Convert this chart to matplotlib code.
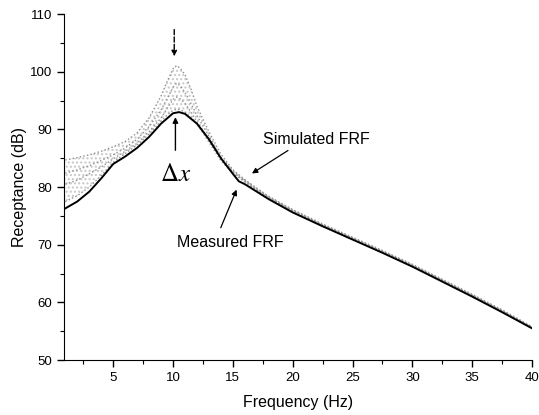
import matplotlib.pyplot as plt
from matplotlib.ticker import MultipleLocator

plt.rcParams['font.family'] = ['Liberation Sans', 'DejaVu Sans']
plt.rcParams['mathtext.fontset'] = 'stix'

# ----- Data -----
freq_meas = [1, 2, 3, 4, 5, 6, 7, 8, 9, 10, 10.5, 11, 12, 13, 14, 15, 15.5, 16,
             17, 18, 20, 22.5, 25, 27.5, 30, 32.5, 35, 37.5, 40]
measured = [76.3, 77.5, 79.2, 81.5, 84.0, 85.3, 86.8, 88.7, 91.0, 92.8, 93.0, 92.7,
            91.0, 88.3, 85.0, 82.3, 81.0, 80.5, 79.2, 77.9, 75.6, 73.2, 70.9, 68.6,
            66.2, 63.6, 61.0, 58.3, 55.5]

freq_sim = [1, 2, 3, 4, 5, 6, 7, 8, 9, 9.5, 10, 10.3, 10.6, 11, 11.5, 12, 13, 14,
            15, 16, 17, 18, 20, 22.5, 25, 27.5, 30, 32.5, 35, 37.5, 40]
sim_a = [84.7, 85.1, 85.6, 86.2, 87.0, 87.9, 89.4, 92.0, 95.8, 98.3, 100.5, 101.1,
         100.6, 99.5, 97.0, 94.0, 89.6, 85.7, 83.0, 81.3, 79.8, 78.4, 76.1, 73.6,
         71.3, 69.0, 66.6, 64.0, 61.4, 58.7, 55.8]
sim_b = [82.4, 83.0, 83.7, 84.6, 85.6, 86.8, 88.3, 90.5, 93.4, 95.3, 97.3, 98.0,
         97.6, 96.4, 94.5, 92.4, 88.8, 85.2, 82.8, 81.2, 79.7, 78.3, 76.0, 73.5,
         71.2, 68.9, 66.5, 63.9, 61.3, 58.6, 55.7]
sim_c = [80.5, 81.2, 82.3, 83.5, 84.9, 86.2, 87.6, 89.6, 92.0, 93.6, 95.2, 95.6,
         95.3, 94.5, 93.0, 91.3, 88.2, 84.9, 82.6, 81.0, 79.5, 78.2, 75.9, 73.4,
         71.1, 68.8, 66.4, 63.8, 61.2, 58.5, 55.6]
sim_d = [77.5, 78.5, 80.0, 82.0, 84.3, 85.8, 87.3, 89.2, 91.4, 92.5, 93.3, 93.5,
         93.4, 93.0, 92.1, 91.0, 87.8, 84.6, 82.4, 80.9, 79.4, 78.0, 75.8, 73.3,
         71.0, 68.7, 66.3, 63.7, 61.1, 58.4, 55.5]

# ----- Plotting -----
fig = plt.figure(figsize=(5.39, 4.15), dpi=100)
ax = fig.add_axes([0.119, 0.1325, 0.868, 0.8335])

ax.fill_between(freq_sim, sim_a, sim_d, facecolor='none', edgecolor='#c8c8c8',
                hatch='....', linewidth=0)
for s in [sim_a, sim_b, sim_c, sim_d]:
    ax.plot(freq_sim, s, color='#909090', linestyle=':', linewidth=1.0)
ax.plot(freq_meas, measured, color='black', linewidth=1.4)

# annotations
ax.annotate('', xy=(10.1, 102.2), xytext=(10.1, 107.8),
            arrowprops=dict(arrowstyle='-|>', color='black', linestyle='--',
                            linewidth=1, mutation_scale=8))
ax.annotate('', xy=(10.2, 92.6), xytext=(10.2, 85.9),
            arrowprops=dict(arrowstyle='-|>', color='black', linewidth=1,
                            mutation_scale=8))
ax.text(10.2, 82.2, r'$\Delta x$', fontsize=18, ha='center', va='center')

ax.annotate('', xy=(16.4, 82.1), xytext=(19.8, 86.6),
            arrowprops=dict(arrowstyle='-|>', color='black', linewidth=0.9,
                            mutation_scale=8))
ax.text(17.5, 88.3, 'Simulated FRF', fontsize=11.5, ha='left', va='center')
ax.annotate('', xy=(15.4, 80.0), xytext=(13.9, 72.5),
            arrowprops=dict(arrowstyle='-|>', color='black', linewidth=0.9,
                            mutation_scale=8))
ax.text(10.3, 70.4, 'Measured FRF', fontsize=11.5, ha='left', va='center')

ax.set_xlim(0.9, 40)
ax.set_ylim(50, 110)
ax.set_xticks([5, 10, 15, 20, 25, 30, 35, 40])
ax.set_yticks([50, 60, 70, 80, 90, 100, 110])
ax.xaxis.set_minor_locator(MultipleLocator(2.5))
ax.yaxis.set_minor_locator(MultipleLocator(5))
ax.tick_params(which='major', direction='out', length=5, width=1, labelsize=9.5)
ax.tick_params(which='minor', direction='out', length=3, width=0.8)
ax.spines['top'].set_visible(False)
ax.spines['right'].set_visible(False)
ax.set_xlabel('Frequency (Hz)', fontsize=11.5, labelpad=8)
ax.set_ylabel('Receptance (dB)', fontsize=11.5, labelpad=2)

fig.savefig('out.png', dpi=100)
